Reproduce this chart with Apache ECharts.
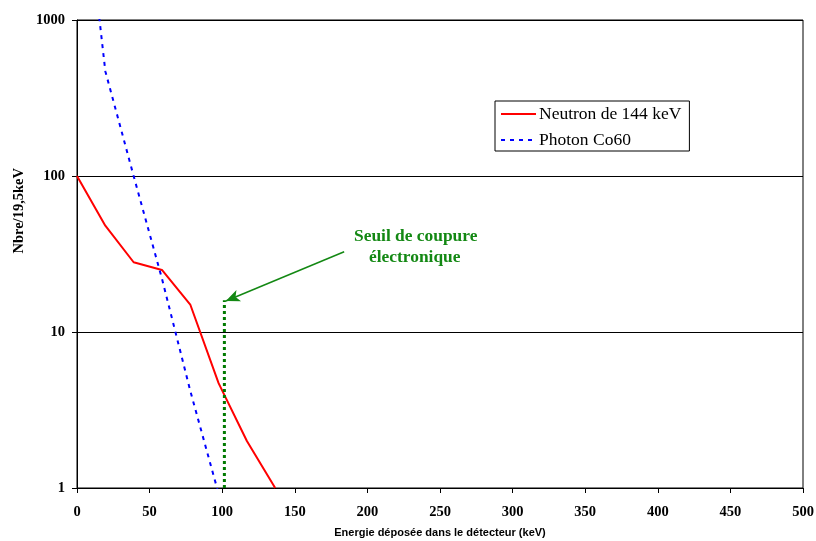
<!DOCTYPE html>
<html><head><meta charset="utf-8">
<script src="https://cdn.jsdelivr.net/npm/echarts@6/dist/echarts.min.js"></script>
<style>html,body{margin:0;padding:0;background:#fff}#c{width:816px;height:541px}</style>
</head><body><div id="c"></div>
<script>
const neutronX = [0, 19.5, 39, 58.5, 78, 97.5, 117, 136.5];
const neutronY = [100, 48, 28, 25, 15, 4.7, 2.0, 1.0];
const photonX = [0, 19.5, 39, 58.5, 78, 97.5];
const photonY = [19000, 470, 100, 22, 4.2, 0.92];
const thresholdX = 101.5;
const thresholdY = [1, 16];
const arrowFrom = [184, 32.7];
const arrowTo = [102.5, 15.8];
const xTicks = [0, 50, 100, 150, 200, 250, 300, 350, 400, 450, 500];
const yTicks = [1, 10, 100, 1000];

const serif = 'Liberation Serif';
const zip = (xs, ys) => xs.map((x, i) => [x, ys[i]]);

const chart = echarts.init(document.getElementById('c'), null, {renderer: 'canvas'});
chart.setOption({
  animation: false,
  backgroundColor: '#fff',
  grid: {left: 77, top: 20, right: 13, bottom: 53, containLabel: false, outerBoundsMode: 'none',
    show: true, borderColor: '#000', borderWidth: 1, backgroundColor: 'transparent'},
  legend: {
    orient: 'vertical', left: 495, top: 101,
    borderColor: '#000', borderWidth: 1, padding: [4, 8, 2, 5],
    itemWidth: 35, itemHeight: 14, itemGap: 8,
    itemStyle: {opacity: 0},
    textStyle: {fontFamily: serif, fontSize: 17.5, color: '#000', padding: [0, 0, 0, -2]},
    data: ['Neutron de 144 keV', 'Photon Co60']
  },
  xAxis: {
    type: 'value', min: xTicks[0], max: xTicks[xTicks.length - 1], interval: 50,
    axisLine: {lineStyle: {color: '#000', width: 1}},
    axisTick: {show: true, length: 5, lineStyle: {color: '#000'}},
    axisLabel: {fontFamily: serif, fontWeight: 'bold', fontSize: 14.5, color: '#000', margin: 17},
    splitLine: {show: false},
    name: 'Energie déposée dans le détecteur (keV)', nameLocation: 'middle', nameGap: 39,
    nameTextStyle: {fontFamily: 'Liberation Sans', fontWeight: 'bold', fontSize: 11, color: '#000'}
  },
  yAxis: {
    type: 'log', logBase: 10, min: yTicks[0], max: yTicks[yTicks.length - 1],
    axisLine: {show: true, lineStyle: {color: '#000', width: 1}},
    axisTick: {show: true, length: 5, lineStyle: {color: '#000'}},
    minorTick: {show: false},
    axisLabel: {fontFamily: serif, fontWeight: 'bold', fontSize: 14.5, color: '#000', margin: 12,
      formatter: v => String(Math.round(v))},
    splitLine: {show: true, lineStyle: {color: '#000', width: 1}}
  },
  graphic: [
    {type: 'text', left: 12, top: 168, rotation: Math.PI / 2,
      style: {text: 'Nbre/19,5keV', font: 'bold 14.5px "Liberation Serif"', fill: '#000'}},
    {type: 'text', left: 354, top: 228,
      style: {text: 'Seuil de coupure', font: 'bold 17.4px "Liberation Serif"', fill: '#138813'}},
    {type: 'text', left: 369, top: 249,
      style: {text: 'électronique', font: 'bold 17.4px "Liberation Serif"', fill: '#138813'}}
  ],
  series: [
    {name: 'Neutron de 144 keV', type: 'line', data: zip(neutronX, neutronY), symbol: 'none',
      lineStyle: {color: '#ff0000', width: 2}, itemStyle: {color: '#ff0000'}, clip: true},
    {name: 'Photon Co60', type: 'line', data: zip(photonX, photonY), symbol: 'none',
      lineStyle: {color: '#0000ff', width: 2, type: [4, 5]}, itemStyle: {color: '#0000ff'}, clip: true},
    {name: 'seuil', type: 'line', data: thresholdY.map(y => [thresholdX, y]), symbol: 'none',
      lineStyle: {color: '#007a00', width: 3, type: [3, 3]}, clip: true,
      markLine: {silent: true, symbol: ['none', 'arrow'], symbolSize: [9, 14],
        label: {show: false},
        lineStyle: {color: '#138813', width: 1.5, type: 'solid'},
        data: [[{coord: arrowFrom}, {coord: arrowTo}]]}}
  ]
});
</script></body></html>
